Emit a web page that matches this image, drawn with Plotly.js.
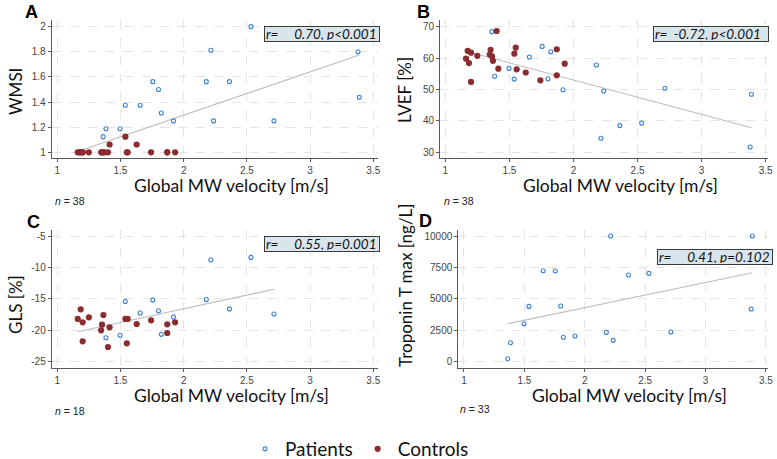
<!DOCTYPE html>
<html>
<head>
<meta charset="utf-8">
<script src="https://cdn.plot.ly/plotly-3.0.1.min.js"></script>
<style>
  html, body { margin: 0; padding: 0; background: #fff; }
  #chart { width: 777px; height: 459px; }
</style>
</head>
<body>
<div id="chart"></div>
<script>
// Global myocardial work velocity [m/s], one entry per subject
const patientVelocity = [1.363, 1.385, 1.497, 1.538, 1.656, 1.756, 1.801, 1.823, 1.919,
                         2.179, 2.215, 2.236, 2.362, 2.532, 2.714, 3.379, 3.389];
const patientWMSI     = [1.125, 1.1875, 1.1875, 1.375, 1.375, 1.5625, 1.5, 1.3125, 1.25,
                         1.5625, 1.8125, 1.25, 1.5625, 2.0, 1.25, 1.8, 1.4375];
const patientLVEF     = [68.4, 54.2, 56.7, 53.3, 60.3, 63.7, 53.4, 62.0, 49.9,
                         57.8, 34.5, 49.5, 38.5, 39.3, 50.4, 31.7, 48.5];
const patientGLS      = [null, -21.2, -20.8, -15.4, -17.25, -15.2, -16.9, -20.65, -17.9,
                         -15.1, -8.77, null, -16.6, -8.4, -17.4, null, null];
const patientTroponin = [240, 1510, 3020, 4400, 7240, 7210, 4430, 1940, 2040,
                         2330, 10000, 1700, 6900, 7030, 2360, 4190, 10000];

const controlVelocity = [1.162, 1.175, 1.185, 1.201, 1.201, 1.250, 1.347, 1.354, 1.365, 1.372,
                         1.401, 1.414, 1.539, 1.550, 1.557, 1.628, 1.742, 1.870, 1.870, 1.932];
const controlWMSI     = [1, 1, 1, 1, 1, 1, 1, 1, 1, 1,
                         1, 1.0625, 1.125, 1, 1, 1.0625, 1, 1, 1, 1];
const controlLVEF     = [59.8, 62.3, 58.4, 61.7, 52.4, 60.7, 61.1, 62.6, 60.5, 59.1,
                         68.6, 56.6, 61.4, 63.3, 56.4, 55.4, 52.9, 62.8, 54.5, 58.2];
const controlGLS      = [-18.2, null, -16.66, -18.73, -21.76, -17.94, -20.0, -19.1, -17.57, null,
                         -22.66, -19.53, -18.2, -22.08, -18.2, -19.0, -18.41, -19.05, -20.43, -18.73];

// Tick values and labels
const velocityTicks = [1, 1.5, 2, 2.5, 3, 3.5];
const wmsiTicks     = [1, 1.2, 1.4, 1.6, 1.8, 2];
const lvefTicks     = [30, 40, 50, 60, 70];
const glsTicks      = [-25, -20, -15, -10, -5];
const glsTickText   = ['-25', '-20', '-15', '-10', '-5'];
const tnTicks       = [0, 2500, 5000, 7500, 10000];
const tnTickText    = ['0', '2500', '5000', '7500', '10000'];

// Panel texts
const panelLetters = ['A', 'B', 'C', 'D'];
const yTitles = ['WMSI', 'LVEF [%]', 'GLS [%]', 'Troponin T max [ng/L]'];
const xTitle = 'Global MW velocity [m/s]';
const sampleSizes = ['38', '38', '18', '33'];
const corrTexts = [
  'r=\u00a0\u00a0\u00a0\u00a0\u00a00.70, p&lt;0.001',
  'r=\u00a0\u00a0-0.72, p&lt;0.001',
  'r=\u00a0\u00a0\u00a0\u00a0\u00a00.55, p=0.001',
  'r=\u00a0\u00a0\u00a0\u00a0\u00a00.41, p=0.102'
];

const BLUE = '#3f82d6';
const RED = '#8b2c30';
const W = 777, H = 459;
const px = v => v / W;
const py = v => 1 - v / H;

// Least-squares line over the range of the observed x values
function fitLine(xs, ys) {
  const pts = xs.map((x, i) => [x, ys[i]]).filter(p => p[1] !== null && p[1] !== undefined);
  const n = pts.length;
  const mx = pts.reduce((s, p) => s + p[0], 0) / n;
  const my = pts.reduce((s, p) => s + p[1], 0) / n;
  let sxy = 0, sxx = 0;
  pts.forEach(p => { sxy += (p[0] - mx) * (p[1] - my); sxx += (p[0] - mx) ** 2; });
  const b = sxy / sxx, a = my - b * mx;
  const xmin = Math.min(...pts.map(p => p[0]));
  const xmax = Math.max(...pts.map(p => p[0]));
  return { x: [xmin, xmax], y: [a + b * xmin, a + b * xmax] };
}

const traces = [];
function addPanel(idx, pY, cY) {
  const sfx = idx === 1 ? '' : String(idx);
  const xa = 'x' + sfx, ya = 'y' + sfx;
  const allX = cY ? patientVelocity.concat(controlVelocity) : patientVelocity;
  const allY = cY ? pY.concat(cY) : pY;
  const fit = fitLine(allX, allY);
  traces.push({
    x: fit.x, y: fit.y, xaxis: xa, yaxis: ya, mode: 'lines',
    line: { color: '#bdbdbd', width: 1.1 }, showlegend: false, hoverinfo: 'skip'
  });
  traces.push({
    x: patientVelocity, y: pY, xaxis: xa, yaxis: ya, mode: 'markers',
    name: 'Patients', legendgroup: 'p', showlegend: idx === 1, legendrank: 1,
    marker: { symbol: 'circle-open', size: 4, color: BLUE, line: { width: 1.1, color: BLUE } }
  });
  if (cY) {
    traces.push({
      x: controlVelocity, y: cY, xaxis: xa, yaxis: ya, mode: 'markers',
      name: 'Controls', legendgroup: 'c', showlegend: idx === 1, legendrank: 2,
      marker: { symbol: 'circle', size: 6.2, color: RED, line: { width: 0 } }
    });
  }
}
addPanel(1, patientWMSI, controlWMSI);
addPanel(2, patientLVEF, controlLVEF);
addPanel(3, patientGLS, controlGLS);
addPanel(4, patientTroponin, null);

function axis(extra) {
  return Object.assign({
    showline: true, linecolor: '#5a5a5a', linewidth: 1,
    ticks: 'outside', ticklen: 3, tickcolor: '#5a5a5a', tickwidth: 1,
    showgrid: true, gridcolor: '#e4e4e4', griddash: 'dash', gridwidth: 1,
    zeroline: false, tickmode: 'array', automargin: false,
    tickfont: { family: 'Liberation Sans, Arial, sans-serif', size: 10, color: '#444' },
    fixedrange: true
  }, extra);
}

// panel frames in pixels: [left, right, top, bottom]
const frames = [
  [51.7, 378, 20, 158],
  [440, 768, 20, 158],
  [51.7, 378, 230, 368.3],
  [458.3, 768, 230, 368.3]
];
const dom = f => ({ x: [px(f[0]), px(f[1])], y: [py(f[3]), py(f[2])] });

const layout = {
  width: W, height: H,
  margin: { l: 0, r: 0, t: 0, b: 0, pad: 0, autoexpand: false },
  paper_bgcolor: '#fff', plot_bgcolor: '#fff',
  font: { family: 'Lato, sans-serif', color: '#111' },
  showlegend: true,
  legend: {
    orientation: 'h', x: px(245), xanchor: 'left', y: py(449), yanchor: 'middle',
    font: { family: 'Lato, sans-serif', size: 19, color: '#111' },
    bgcolor: 'rgba(0,0,0,0)', itemclick: false, traceorder: 'normal'
  },
  xaxis:  axis({ domain: dom(frames[0]).x, anchor: 'y',  range: [0.956, 3.537], tickvals: velocityTicks }),
  yaxis:  axis({ domain: dom(frames[0]).y, anchor: 'x',  range: [0.955, 2.053], tickvals: wmsiTicks }),
  xaxis2: axis({ domain: dom(frames[1]).x, anchor: 'y2', range: [0.959, 3.518], tickvals: velocityTicks }),
  yaxis2: axis({ domain: dom(frames[1]).y, anchor: 'x2', range: [28.2, 72.1], tickvals: lvefTicks }),
  xaxis3: axis({ domain: dom(frames[2]).x, anchor: 'y3', range: [0.956, 3.537], tickvals: velocityTicks }),
  yaxis3: axis({ domain: dom(frames[2]).y, anchor: 'x3', range: [-26.05, -4.04], tickvals: glsTicks, ticktext: glsTickText }),
  xaxis4: axis({ domain: dom(frames[3]).x, anchor: 'y4', range: [0.953, 3.518], tickvals: velocityTicks }),
  yaxis4: axis({ domain: dom(frames[3]).y, anchor: 'x4', range: [-525, 10477], tickvals: tnTicks, ticktext: tnTickText }),
  annotations: []
};

const letterPos = [[31.5, 0], [424, 0], [33, 210], [425, 209]];
const yTitlePos = [[15, 92], [405, 90], [15, 305], [405, 285]];
const xTitlePos = [[231.7, 185], [620.5, 185], [231, 395], [629.5, 395]];
const nPos = [[53, 201], [442, 201], [53, 411], [458, 409]];
const boxPos = [[263.5, 26], [653, 26.5], [263.5, 236], [657, 249]];

const ann = layout.annotations;
for (let i = 0; i < 4; i++) {
  ann.push({ xref: 'paper', yref: 'paper', x: px(letterPos[i][0]), y: py(letterPos[i][1]),
    text: '<b>' + panelLetters[i] + '</b>', showarrow: false, xanchor: 'center', yanchor: 'top',
    font: { family: 'Liberation Sans, Arial, sans-serif', size: 18, color: '#000' } });
  ann.push({ xref: 'paper', yref: 'paper', x: px(yTitlePos[i][0]), y: py(yTitlePos[i][1]),
    text: yTitles[i], textangle: -90, showarrow: false, xanchor: 'center', yanchor: 'middle',
    font: { family: 'Lato, sans-serif', size: 17, color: '#111' } });
  ann.push({ xref: 'paper', yref: 'paper', x: px(xTitlePos[i][0]), y: py(xTitlePos[i][1]),
    text: xTitle, showarrow: false, xanchor: 'center', yanchor: 'middle',
    font: { family: 'Lato, sans-serif', size: 17.5, color: '#111' } });
  ann.push({ xref: 'paper', yref: 'paper', x: px(nPos[i][0]), y: py(nPos[i][1]),
    text: '<i>n</i> = ' + sampleSizes[i], showarrow: false, xanchor: 'left', yanchor: 'middle',
    font: { family: 'Liberation Sans, Arial, sans-serif', size: 10.5, color: '#222' } });
  ann.push({ xref: 'paper', yref: 'paper', x: px(boxPos[i][0]), y: py(boxPos[i][1]),
    text: '<i>' + corrTexts[i] + '</i>', showarrow: false, xanchor: 'left', yanchor: 'top',
    align: 'left', width: 112, height: 12,
    bgcolor: '#d9e5ec', bordercolor: '#3a3a3a', borderwidth: 1, borderpad: 1,
    font: { family: 'Lato, sans-serif', size: 13.5, color: '#111' } });
}

Plotly.newPlot('chart', traces, layout, { staticPlot: true, displayModeBar: false });
</script>
</body>
</html>
